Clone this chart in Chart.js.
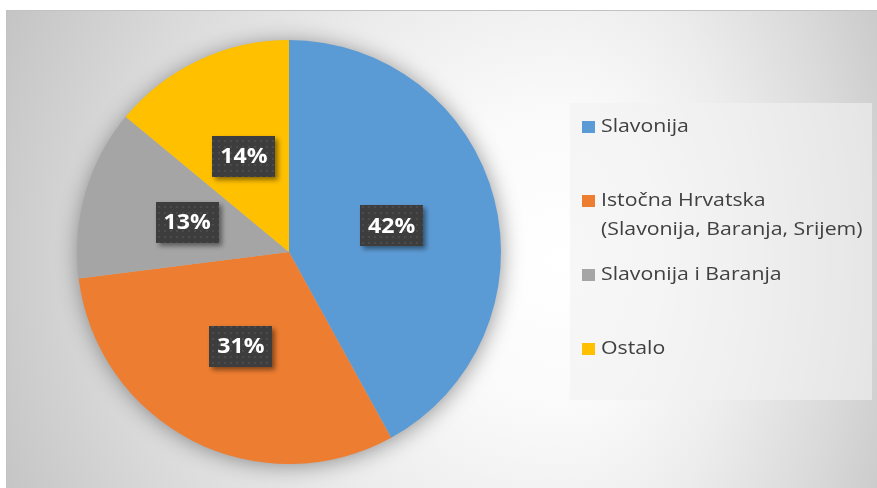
<!DOCTYPE html>
<html>
<head>
<meta charset="utf-8">
<script src="https://cdn.jsdelivr.net/npm/chart.js@4/dist/chart.umd.min.js"></script>
<style>
  html,body{margin:0;padding:0;background:#fff;}
  #wrap{position:absolute;left:0;top:0;width:877px;height:488px;}
</style>
</head>
<body>
<div id="wrap"><canvas id="c" width="877" height="488"></canvas></div>
<script>
// ---- data ----
const categories = [
  "Slavonija",
  ["Istočna Hrvatska", "(Slavonija, Baranja, Srijem)"],
  "Slavonija i Baranja",
  "Ostalo"
];
const shares = [42, 31, 13, 14];
const sliceColors = ["#5B9BD5", "#ED7D31", "#A5A5A5", "#FFC000"];

const W = 877, H = 488;

function hexGray(v){ v=Math.round(v); return 'rgb('+v+','+v+','+v+')'; }

const backgroundPlugin = {
  id: 'bg',
  beforeDraw(chart){
    const ctx = chart.ctx;
    ctx.save();
    ctx.fillStyle = '#fff';
    ctx.fillRect(0,0,W,H);
    const x0=6, y0=10, x1=W, y1=H;
    const cx=560, cy=260, ry=600;
    [[x0,cx,600],[cx,x1,380]].forEach(([a,b,rx])=>{
      ctx.save();
      ctx.beginPath(); ctx.rect(a,y0,b-a,y1-y0); ctx.clip();
      ctx.translate(cx,cy); ctx.scale(rx,ry);
      const g = ctx.createRadialGradient(0,0,0,0,0,1.3);
      const st = [[0,255],[0.25,250],[0.5,236],[0.75,218],[1.0,197],[1.3,180]];
      st.forEach(([d,v])=>g.addColorStop(d/1.3, hexGray(v)));
      ctx.fillStyle = g;
      ctx.fillRect(-5,-5,10,10);
      ctx.restore();
    });
    ctx.fillStyle = '#c2c2c2';
    ctx.fillRect(x0, y0, x1-x0, 1);
    ctx.fillRect(x0, y0, 1, y1-y0);
    ctx.restore();
  },
  beforeDatasetsDraw(chart){
    const meta = chart.getDatasetMeta(0);
    const arc = meta.data[0];
    if(!arc) return;
    const ctx = chart.ctx;
    ctx.save();
    ctx.shadowColor = 'rgba(0,0,0,0.42)';
    ctx.shadowBlur = 22;
    ctx.shadowOffsetX = 1;
    ctx.shadowOffsetY = 2;
    ctx.fillStyle = '#bbb';
    ctx.beginPath();
    ctx.arc(arc.x, arc.y, arc.outerRadius - 1, 0, Math.PI*2);
    ctx.fill();
    ctx.restore();
  }
};

function makePattern(ctx){
  const t = document.createElement('canvas');
  t.width = 6; t.height = 6;
  const c = t.getContext('2d');
  c.fillStyle = '#3d3d3d'; c.fillRect(0,0,6,6);
  c.fillStyle = '#4b4b4b'; c.fillRect(2,2,2,2);
  return ctx.createPattern(t,'repeat');
}

const labelPlugin = {
  id: 'pctLabels',
  afterDatasetsDraw(chart){
    const ctx = chart.ctx;
    const data = chart.data.datasets[0].data;
    const total = data.reduce((a,b)=>a+b,0);
    const meta = chart.getDatasetMeta(0);
    const pat = makePattern(ctx);
    meta.data.forEach((el,i)=>{
      const p = el.tooltipPosition();
      const txt = Math.round(data[i]/total*100) + '%';
      const bw = 63, bh = 41;
      ctx.save();
      ctx.shadowColor = 'rgba(0,0,0,0.45)';
      ctx.shadowBlur = 5;
      ctx.shadowOffsetX = 3;
      ctx.shadowOffsetY = 3;
      ctx.fillStyle = pat;
      ctx.fillRect(Math.round(p.x - bw/2), Math.round(p.y - bh/2), bw, bh);
      ctx.restore();
      ctx.save();
      ctx.fillStyle = '#ffffff';
      ctx.font = 'bold 21px "Open Sans"';
      ctx.textAlign = 'center';
      ctx.textBaseline = 'middle';
      ctx.translate(p.x, p.y + 1);
      ctx.scale(1.1, 1);
      ctx.fillText(txt, 0, 0);
      ctx.restore();
    });
  }
};

const legendPlugin = {
  id: 'customLegend',
  afterDraw(chart){
    const ctx = chart.ctx;
    ctx.save();
    ctx.fillStyle = 'rgba(242,242,242,0.6)';
    ctx.fillRect(570, 103, 302, 297);
    const rows = [127, 200.5, 274.5, 349];
    const labels = chart.data.labels;
    const cols = chart.data.datasets[0].backgroundColor;
    labels.forEach((lab,i)=>{
      const y = rows[i];
      ctx.fillStyle = cols[i];
      ctx.fillRect(582, Math.round(y - 6), 13, 12);
      const lines = Array.isArray(lab) ? lab : [lab];
      ctx.fillStyle = '#404040';
      ctx.font = '18.5px "Open Sans"';
      ctx.textBaseline = 'middle';
      lines.forEach((ln,j)=>{
        ctx.save();
        ctx.translate(601, y + j*29.5);
        ctx.scale(1.15, 1);
        ctx.fillText(ln, 0, 0);
        ctx.restore();
      });
    });
    ctx.restore();
  }
};

new Chart(document.getElementById('c'), {
  type: 'pie',
  data: {
    labels: categories,
    datasets: [{
      data: shares,
      backgroundColor: sliceColors,
      borderWidth: 0,
      hoverOffset: 0,
      offset: 0
    }]
  },
  options: {
    responsive: false,
    animation: false,
    devicePixelRatio: 1,
    events: [],
    layout: { padding: { left: 77, top: 40, right: 376, bottom: 24 } },
    plugins: {
      legend: { display: false },
      tooltip: { enabled: false },
      title: { display: false }
    }
  },
  plugins: [backgroundPlugin, labelPlugin, legendPlugin]
});
</script>
</body>
</html>
